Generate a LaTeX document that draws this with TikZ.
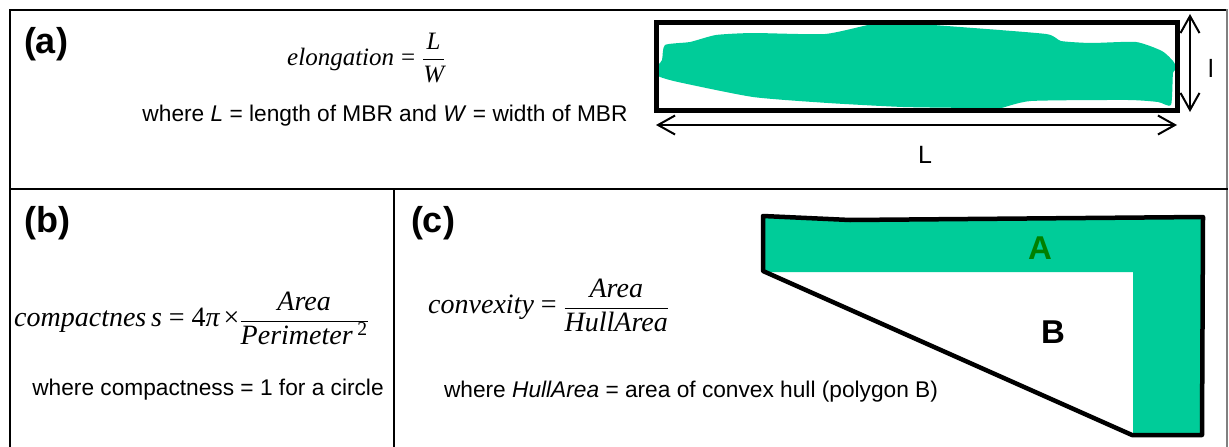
\documentclass[tikz,border=0pt]{standalone}
\usepackage{fontspec}
\setmainfont{Liberation Sans}
\newfontfamily\tms{Liberation Serif}
\usetikzlibrary{arrows.meta}
\definecolor{mint}{RGB}{0,204,153}
\definecolor{agreen}{RGB}{0,128,0}
\newcommand{\ti}[1]{\mbox{\tms\itshape #1}}
\newcommand{\tu}[1]{\mbox{\tms #1}}
\begin{document}
\begin{tikzpicture}[x=1pt,y=-1pt,
  frame/.style={line width=2pt,line cap=rect},
  panellabel/.style={font=\fontsize{36}{38}\selectfont\bfseries, inner sep=0pt},
  body/.style={font=\fontsize{22.7}{26}\selectfont, inner sep=0pt},
  formula/.style={inner sep=0pt, anchor=west},
  dimarrow/.style={line width=2pt, {Straight Barb[length=17pt,width=19pt,line width=2pt]}-{Straight Barb[length=17pt,width=19pt,line width=2pt]}},
  hull/.style={line width=4.5pt, line join=round},
  bigletter/.style={font=\fontsize{33}{35}\selectfont\bfseries, inner sep=0pt}]
\useasboundingbox (0,0) rectangle (1229,447);
\fill[white] (0,0) rectangle (1229,447);

% frame
\draw[frame] (10,447) -- (10,10) -- (1227,10);
\draw[frame,gray] (1227,10) -- (1227,447);
\draw[frame] (10,189) -- (1227,189);
\draw[frame] (394,189) -- (394,447);

% panel labels
\node[panellabel] (la) at (46,44) {(a)};
\node[panellabel] (lb) at (47,223) {(b)};
\node[panellabel] (lc) at (433,223) {(c)};

% (a) formula and text
\node[formula, font=\fontsize{25}{29}\selectfont] (fa) at (287,58)
  {$\displaystyle \ti{elongation} \mathrel{\tu{=}} \frac{\ti{L}}{\ti{W}}$};
\node[body] (ta) at (385,116) {where \textit{L} = length of MBR and \textit{W} = width of MBR};

% (a) shape: blob and MBR
\fill[mint] plot[smooth cycle, tension=0.35] coordinates {(665,45) (690,42) (716,35) (753,33) (825,34) (873,24)
  (903,23) (960,27) (1046,34) (1061,41) (1091,43) (1136,42)
  (1162,51) (1173,61) (1177,69) (1173,73) (1171,105) (1158,102)
  (1128,100) (1031,101) (997,109) (971,108) (903,107) (828,103)
  (753,97) (678,82) (658,76) (656,68) (662,60)};
\node[draw, line width=5pt, inner sep=0pt, minimum width=521pt, minimum height=88pt] (mbr) at (916.5,66) {};
\coordinate (hl) at (656,125);
\coordinate (hr) at (1177,125);
\draw[dimarrow] (hl) -- (hr);
\coordinate (vt) at (1190,14);
\coordinate (vb) at (1190,112);
\draw[dimarrow] (vt) -- (vb);
\node[font=\fontsize{25}{27}\selectfont, inner sep=0pt] (lL) at (925,155) {L};
\node[font=\fontsize{25}{27}\selectfont, inner sep=0pt] (ll) at (1211,68) {l};

% (b)
\node[formula, font=\fontsize{28}{32}\selectfont] (fb) at (14,318)
  {$\displaystyle \ti{compactnes\,s} \mathrel{\tu{=}} \tu{4}\ti{π}\,\tu{×} \frac{\ti{Area}}{\ti{Perimeter\,\textsuperscript{\upshape 2}}}$};
\node[body] (tb) at (208,390) {where compactness = 1 for a circle};

% (c)
\node[formula, font=\fontsize{28}{32}\selectfont] (fc) at (428,305)
  {$\displaystyle \ti{convexity} \mathrel{\tu{=}} \frac{\ti{Area}}{\ti{HullArea}}$};
\node[body] (tc) at (691,392) {where \textit{HullArea} = area of convex hull (polygon B)};

% (c) shape
\fill[mint] (763,216) -- (850,220) -- (1203,217) -- (1202,435) -- (1133,435)
  -- (1133,272) -- (763,272) -- cycle;
\draw[hull] (763,216) -- (850,220) -- (1203,217) -- (1202,435) -- (1132,435)
  -- (763,271) -- cycle;
\node[bigletter, text=agreen] (A) at (1040,248) {A};
\node[bigletter] (B) at (1053,332) {B};
\end{tikzpicture}
\end{document}
